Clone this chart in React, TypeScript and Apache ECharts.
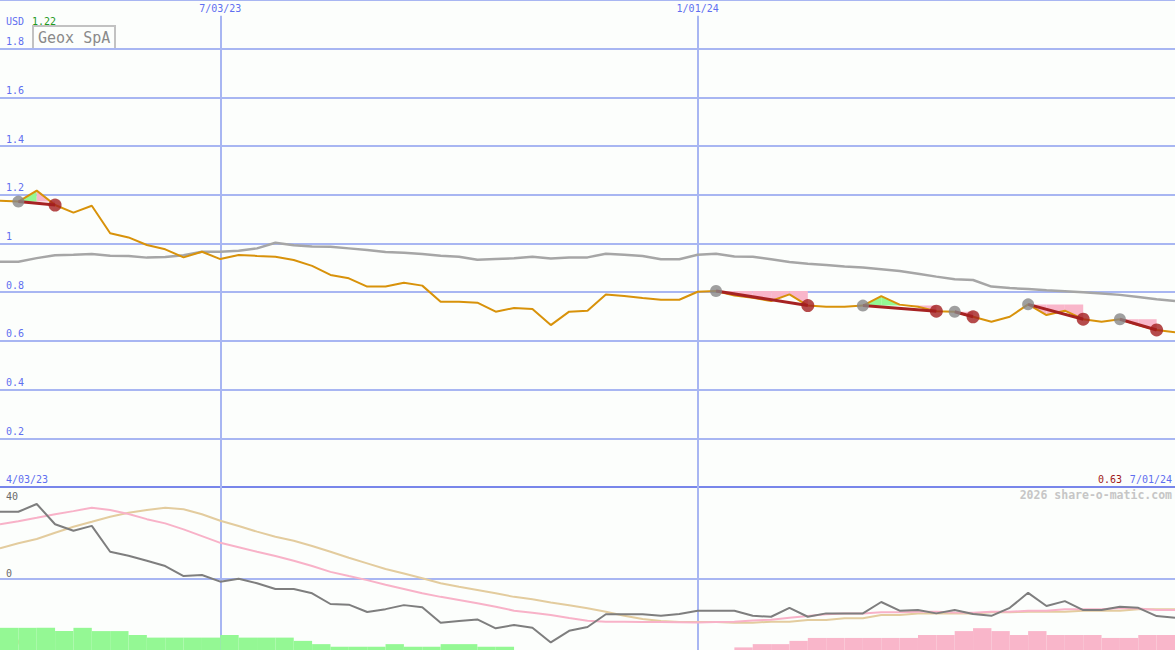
import React, { useEffect, useRef } from "react";
import * as echarts from "echarts";

// ---------- data (weekly, index 0 = 4/03/23 ... 64 = 7/01/24) ----------
const PRICE = [
  1.176, 1.172, 1.217, 1.158, 1.127, 1.155, 1.042, 1.025, 0.994, 0.976,
  0.943, 0.966, 0.936, 0.953, 0.949, 0.946, 0.932, 0.908, 0.871, 0.857,
  0.823, 0.823, 0.839, 0.827, 0.761, 0.761, 0.757, 0.72, 0.735, 0.731,
  0.665, 0.72, 0.724, 0.791, 0.784, 0.776, 0.769, 0.769, 0.802, 0.805,
  0.786, 0.777, 0.764, 0.791, 0.745, 0.74, 0.74, 0.745, 0.784, 0.749,
  0.74, 0.722, 0.72, 0.699, 0.679, 0.699, 0.75, 0.706, 0.724, 0.689,
  0.679, 0.689, 0.665, 0.645, 0.635,
];

const MOVING_AVG = [
  0.925, 0.925, 0.94, 0.952, 0.954, 0.957, 0.95, 0.949, 0.942, 0.945,
  0.952, 0.966, 0.966, 0.97, 0.98, 1.003, 0.993, 0.988, 0.987, 0.98,
  0.973, 0.965, 0.962, 0.957, 0.95, 0.946, 0.933, 0.936, 0.939, 0.946,
  0.938, 0.943, 0.943, 0.958, 0.954, 0.949, 0.935, 0.935, 0.954, 0.958,
  0.947, 0.946, 0.935, 0.924, 0.917, 0.912, 0.906, 0.901, 0.894, 0.887,
  0.876, 0.864, 0.853, 0.85, 0.823, 0.817, 0.813, 0.808, 0.804, 0.8,
  0.795, 0.789, 0.78, 0.771, 0.764,
];

const OSC_MAIN = [
  29.9, 29.9, 33.4, 24.3, 21.4, 23.6, 12.0, 10.2, 8.0, 5.6,
  1.1, 1.6, -1.4, -0.1, -2.1, -4.7, -4.7, -6.6, -11.4, -11.7,
  -15.0, -13.7, -11.9, -12.9, -19.8, -19.0, -18.3, -22.3, -20.8, -22.0,
  -28.6, -23.4, -21.7, -16.0, -16.0, -16.0, -16.7, -15.9, -14.4, -14.4,
  -14.4, -16.7, -17.1, -13.1, -17.1, -15.6, -15.6, -15.6, -10.5, -14.4,
  -14.1, -15.6, -14.1, -15.9, -16.7, -13.1, -6.4, -12.3, -10.1, -14.1,
  -14.1, -12.6, -13.1, -16.8, -17.6,
];

const OSC_FAST = [
  24.3, 25.7, 27.2, 28.8, 30.2, 31.7, 30.7, 28.9, 26.6, 24.7,
  22.0, 19.0, 16.0, 14.0, 12.0, 10.1, 8.0, 5.6, 3.0, 1.1,
  -0.7, -2.8, -4.7, -6.6, -8.2, -9.6, -11.1, -12.6, -14.4, -15.3,
  -16.3, -17.7, -18.9, -19.3, -19.3, -19.5, -19.5, -19.6, -19.7, -19.5,
  -19.3, -18.8, -18.4, -17.6, -16.8, -16.0, -15.7, -15.6, -15.1, -15.1,
  -14.9, -14.9, -15.2, -15.3, -14.9, -14.9, -14.4, -14.4, -13.7, -13.7,
  -13.7, -13.2, -13.4, -14.1, -14.1,
];

const OSC_SLOW = [
  13.5, 15.8, 17.7, 20.5, 23.2, 25.4, 27.7, 29.5, 30.7, 31.7,
  31.0, 28.8, 25.9, 23.5, 21.0, 18.7, 16.9, 14.6, 12.0, 9.3,
  6.8, 4.3, 2.3, 0.1, -2.1, -3.7, -5.1, -6.6, -8.2, -9.3,
  -10.7, -12.0, -13.3, -14.9, -16.7, -18.1, -19.0, -19.5, -19.5, -19.5,
  -19.8, -19.8, -19.3, -19.3, -18.6, -18.6, -17.8, -17.8, -16.3, -16.3,
  -15.6, -15.6, -15.6, -15.6, -15.1, -15.1, -14.9, -14.9, -14.9, -14.4,
  -14.4, -14.4, -13.7, -13.7, -13.7,
];

const HISTOGRAM = [
  6.8, 6.8, 6.8, 5.8, 6.8, 5.8, 5.8, 4.6, 3.8, 3.8,
  3.8, 3.8, 4.6, 3.8, 3.8, 3.8, 2.8, 1.8, 1.0, 1.0,
  1.0, 1.8, 1.0, 1.0, 1.8, 1.8, 1.0, 1.0, 0, 0,
  0, 0, 0, 0, 0, 0, 0, 0, 0, 0,
  -0.8, -1.8, -1.8, -2.8, -3.7, -3.7, -3.7, -3.7, -3.7, -3.7,
  -4.6, -4.6, -5.8, -6.7, -5.8, -4.6, -5.8, -4.6, -4.6, -4.6,
  -3.7, -3.7, -4.6, -4.6, -4.6,
];

// [entry index, exit index]
const TRADES = [
  [1, 3],
  [39, 44],
  [47, 51],
  [52, 53],
  [56, 59],
  [61, 63],
];

const DATE_LINES = [
  { idx: 12, label: "7/03/23" },
  { idx: 38, label: "1/01/24" },
];

const FIRST_DATE = "4/03/23";
const LAST_DATE = "7/01/24";
const TITLE = "Geox SpA";
const CURRENCY = "USD";
const HIGH_LABEL = "1.22";
const LAST_LABEL = "0.63";
const OSC_LABELS = ["40", "0", "-30"];
const CREDIT = "2026 share-o-matic.com";

// ---------- styles ----------
const BG = "#fcfefc";
const GRID_C = "#a8b6f2";
const BLUE = "#5f6ff0";
const MONO = '"DejaVu Sans Mono", "Liberation Mono", monospace';
const PINK_FILL = "#f9b6ca";
const GREEN_FILL = "#94f894";

export default function App() {
  const ref = useRef<HTMLDivElement>(null);

  useEffect(() => {
    if (!ref.current) return;
    const chart = echarts.init(ref.current, undefined, { renderer: "svg" });

    const idxPairs = (arr: number[]) => arr.map((v, i) => [i, v]);

    const fillSegs: number[][] = [];
    TRADES.forEach(([a, b]) => {
      const lvl = PRICE[a];
      for (let k = a; k < b; k++) {
        fillSegs.push([k, lvl, PRICE[k], PRICE[k + 1], PRICE[k + 1] >= lvl ? 1 : -1]);
      }
    });

    const histData = HISTOGRAM.map((v, i) => [i, v]);

    const option: any = {
      animation: false,
      backgroundColor: BG,
      grid: [
        { left: 0, right: 0, top: 0, height: 487 },
        { left: 0, right: 0, top: 487, height: 163 },
      ],
      xAxis: [
        {
          type: "value",
          gridIndex: 0,
          min: 0,
          max: 64,
          axisLine: { show: true, onZero: false, lineStyle: { color: "#7886ea", width: 2 } },
          axisTick: { show: false },
          axisLabel: { show: false },
          splitLine: { show: false },
        },
        { type: "value", gridIndex: 1, min: 0, max: 64, show: false },
      ],
      yAxis: [
        {
          type: "value",
          gridIndex: 0,
          min: 0,
          max: 2,
          interval: 0.2,
          axisLine: { show: false },
          axisTick: { show: false },
          splitLine: { show: true, lineStyle: { color: GRID_C, width: 2 } },
          axisLabel: {
            inside: true,
            margin: 6,
            verticalAlign: "bottom",
            padding: [0, 0, 2, 0],
            color: BLUE,
            fontFamily: MONO,
            fontSize: 10,
            formatter: (v: number) =>
              v <= 0.001 || v >= 1.99 ? "" : String(Math.round(v * 10) / 10),
          },
        },
        { type: "value", gridIndex: 1, min: -32, max: 41, show: false },
        { type: "value", gridIndex: 1, min: 0, max: 50, show: false },
      ],
      series: [
        {
          type: "line",
          name: "avg",
          xAxisIndex: 0,
          yAxisIndex: 0,
          data: idxPairs(MOVING_AVG),
          symbol: "none",
          lineStyle: { color: "#a6a6a6", width: 2.5 },
          z: 2,
          silent: true,
        },
        {
          type: "custom",
          name: "tradefill",
          xAxisIndex: 0,
          yAxisIndex: 0,
          data: fillSegs,
          encode: { x: 0, y: 1 },
          renderItem: (params: any, api: any) => {
            const k = api.value(0);
            const lvl = api.value(1);
            const p0 = api.value(2);
            const p1 = api.value(3);
            const s = api.value(4);
            const pts = [
              api.coord([k, lvl]),
              api.coord([k, p0]),
              api.coord([k + 1, p1]),
              api.coord([k + 1, lvl]),
            ];
            return {
              type: "polygon",
              shape: { points: pts },
              style: { fill: s > 0 ? GREEN_FILL : PINK_FILL },
            };
          },
          z: 3,
          silent: true,
        },
        {
          type: "line",
          name: "price",
          xAxisIndex: 0,
          yAxisIndex: 0,
          data: idxPairs(PRICE),
          symbol: "none",
          lineStyle: { color: "#d8920a", width: 2 },
          z: 4,
          silent: true,
          markLine: {
            silent: true,
            symbol: ["none", "none"],
            lineStyle: { type: "solid", color: GRID_C, width: 2 },
            label: {
              show: true,
              position: "start",
              distance: 2,
              formatter: "{b}",
              color: BLUE,
              fontFamily: MONO,
              fontSize: 10,
            },
            data: DATE_LINES.map((d) => [
              { coord: [d.idx, 1.935], name: d.label },
              { coord: [d.idx, 0] },
            ]),
            z: 1,
          },
        },
        {
          type: "lines",
          name: "trades",
          coordinateSystem: "cartesian2d",
          xAxisIndex: 0,
          yAxisIndex: 0,
          data: TRADES.map(([a, b]) => ({
            coords: [
              [a, PRICE[a]],
              [b, PRICE[b]],
            ],
          })),
          lineStyle: { color: "#a62222", width: 3, opacity: 1 },
          z: 5,
          silent: true,
        },
        {
          type: "scatter",
          name: "entry",
          xAxisIndex: 0,
          yAxisIndex: 0,
          data: TRADES.map(([a]) => [a, PRICE[a]]),
          symbol: "circle",
          symbolSize: 12,
          itemStyle: { color: "#878787" },
          z: 6,
          silent: true,
        },
        {
          type: "scatter",
          name: "exit",
          xAxisIndex: 0,
          yAxisIndex: 0,
          data: TRADES.map(([, b]) => [b, PRICE[b]]),
          symbol: "circle",
          symbolSize: 13,
          itemStyle: { color: "#a21e1e" },
          z: 6,
          silent: true,
        },
        // ---- bottom panel ----
        {
          type: "custom",
          name: "hist",
          xAxisIndex: 1,
          yAxisIndex: 2,
          data: histData,
          encode: { x: 0, y: 1 },
          renderItem: (params: any, api: any) => {
            const i = api.value(0);
            const h = api.value(1);
            if (!h) return null;
            const a = api.coord([i, Math.abs(h)]);
            const b = api.coord([i + 1, 0]);
            return {
              type: "rect",
              shape: { x: a[0], y: a[1], width: b[0] - a[0], height: b[1] - a[1] },
              style: { fill: h > 0 ? GREEN_FILL : PINK_FILL },
            };
          },
          z: 1,
          silent: true,
        },
        {
          type: "line",
          name: "slow",
          xAxisIndex: 1,
          yAxisIndex: 1,
          data: idxPairs(OSC_SLOW),
          symbol: "none",
          lineStyle: { color: "#e3cc9e", width: 2 },
          z: 2,
          silent: true,
        },
        {
          type: "line",
          name: "fast",
          xAxisIndex: 1,
          yAxisIndex: 1,
          data: idxPairs(OSC_FAST),
          symbol: "none",
          lineStyle: { color: "#f8b2c8", width: 2 },
          z: 3,
          silent: true,
        },
        {
          type: "line",
          name: "osc",
          xAxisIndex: 1,
          yAxisIndex: 1,
          data: idxPairs(OSC_MAIN),
          symbol: "none",
          lineStyle: { color: "#7e7e7e", width: 2 },
          z: 4,
          silent: true,
          markLine: {
            silent: true,
            symbol: ["none", "none"],
            label: { show: false },
            lineStyle: { type: "solid", color: GRID_C, width: 2 },
            data: [{ yAxis: 0 }, ...DATE_LINES.map((d) => ({ xAxis: d.idx }))],
            z: 1,
          },
        },
      ],
      graphic: [
        {
          type: "text",
          left: 6,
          top: 16,
          style: { text: CURRENCY, fill: BLUE, font: `10px ${MONO}` },
        },
        {
          type: "text",
          left: 32,
          top: 16,
          style: { text: HIGH_LABEL, fill: "#1f9a1f", font: `10px ${MONO}` },
        },
        {
          type: "group",
          left: 32,
          top: 25,
          children: [
            {
              type: "rect",
              shape: { x: 0, y: 0, width: 82, height: 23 },
              style: { fill: BG, stroke: "#c2c2c2", lineWidth: 2 },
            },
            {
              type: "text",
              x: 5,
              y: 4,
              style: { text: TITLE, fill: "#8a8a8a", font: `15px ${MONO}` },
            },
          ],
        },
        {
          type: "text",
          left: 6,
          top: 474,
          style: { text: FIRST_DATE, fill: BLUE, font: `10px ${MONO}` },
        },
        {
          type: "text",
          right: 3,
          top: 474,
          style: { text: LAST_DATE, fill: BLUE, font: `10px ${MONO}` },
        },
        {
          type: "text",
          right: 53,
          top: 474,
          style: { text: LAST_LABEL, fill: "#a01818", font: `10px ${MONO}` },
        },
        {
          type: "text",
          right: 3,
          top: 489,
          style: { text: CREDIT, fill: "#c6c6c6", font: `bold 11.5px ${MONO}` },
        },
        {
          type: "text",
          left: 6,
          top: 491,
          style: { text: OSC_LABELS[0], fill: "#6a6a6a", font: `10px ${MONO}` },
        },
        {
          type: "text",
          left: 6,
          top: 568,
          style: { text: OSC_LABELS[1], fill: "#6a6a6a", font: `10px ${MONO}` },
        },
        {
          type: "text",
          left: 6,
          top: 637,
          style: { text: OSC_LABELS[2], fill: "#6a6a6a", font: `10px ${MONO}` },
        },
      ],
    };

    chart.setOption(option);
    return () => chart.dispose();
  }, []);

  return (
    <div
      ref={ref}
      style={{ position: "fixed", left: 0, top: 0, width: 1175, height: 650 }}
    />
  );
}
